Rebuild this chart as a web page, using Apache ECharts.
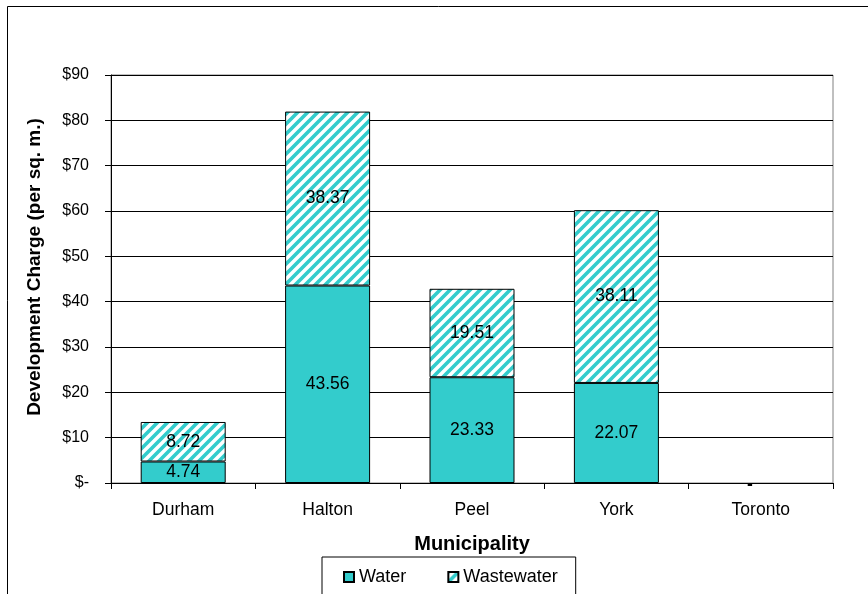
<!DOCTYPE html>
<html>
<head>
<meta charset="utf-8">
<script src="https://cdn.jsdelivr.net/npm/echarts@6/dist/echarts.min.js"></script>
<style>
html,body{margin:0;padding:0;background:#fff;}
#chart{width:868px;height:594px;}
</style>
</head>
<body>
<div id="chart"></div>
<script>
var categories = ['Durham', 'Halton', 'Peel', 'York', 'Toronto'];
var water = [4.74, 43.56, 23.33, 22.07, 0];
var wastewater = [8.72, 38.37, 19.51, 38.11, 0];
var yTicks = [0, 10, 20, 30, 40, 50, 60, 70, 80, 90];

var TEAL = '#33CCCC';
var FONT = 'Arial, "Liberation Sans", sans-serif';

function makeStripe() {
  var s = 10;
  var c = document.createElement('canvas');
  c.width = s; c.height = s;
  var ctx = c.getContext('2d');
  ctx.fillStyle = '#ffffff';
  ctx.fillRect(0, 0, s, s);
  ctx.strokeStyle = TEAL;
  ctx.lineWidth = 3.6;
  ctx.beginPath();
  ctx.moveTo(-3, s + 3); ctx.lineTo(s + 3, -3);
  ctx.moveTo(-3, 3); ctx.lineTo(3, -3);
  ctx.moveTo(s - 3, s + 3); ctx.lineTo(s + 3, s - 3);
  ctx.stroke();
  return c;
}
var stripe = makeStripe();

function toData(arr) {
  return arr.map(function (v) {
    return v === 0 ? {value: v, itemStyle: {borderWidth: 0}} : v;
  });
}

var chart = echarts.init(document.getElementById('chart'), null, {renderer: 'canvas'});
chart.setOption({
  animation: false,
  backgroundColor: '#fff',
  textStyle: {fontFamily: FONT},
  graphic: [{
    type: 'rect',
    shape: {x: 7.5, y: 6.5, width: 900, height: 700},
    style: {fill: 'none', stroke: '#000', lineWidth: 1},
    silent: true, z: -10
  }],
  grid: {
    left: 111, right: 35, top: 75, bottom: 111,
    show: true, borderColor: '#808080', borderWidth: 1
  },
  legend: {
    left: 322, top: 557,
    itemWidth: 10, itemHeight: 10, itemGap: 41,
    padding: [11, 18, 30, 21],
    borderColor: '#000', borderWidth: 1,
    textStyle: {fontSize: 18, color: '#000', fontFamily: FONT},
    data: [
      {name: 'Water', icon: 'rect'},
      {name: 'Wastewater', icon: 'rect'}
    ]
  },
  xAxis: {
    type: 'category',
    data: categories,
    name: 'Municipality',
    nameLocation: 'middle',
    nameGap: 51,
    nameTextStyle: {fontSize: 20, fontWeight: 'bold', color: '#000', fontFamily: FONT},
    axisLine: {lineStyle: {color: '#000', width: 1}},
    axisTick: {show: true, alignWithLabel: false, length: 6, lineStyle: {color: '#000'}},
    axisLabel: {fontSize: 17.5, color: '#000', margin: 18, fontFamily: FONT}
  },
  yAxis: {
    type: 'value',
    min: 0, max: 90, interval: 10,
    name: 'Development Charge (per sq. m.)',
    nameLocation: 'middle',
    nameGap: 67,
    nameRotate: 90,
    nameTextStyle: {fontSize: 19, fontWeight: 'bold', color: '#000', fontFamily: FONT, padding: [0, 0, 0, 24]},
    axisLine: {show: true, lineStyle: {color: '#000', width: 1}},
    axisTick: {show: true, inside: false, length: 6, lineStyle: {color: '#000'}},
    splitLine: {show: true, lineStyle: {color: '#000', width: 1}},
    axisLabel: {
      fontSize: 16, color: '#000', margin: 22, fontFamily: FONT,
      formatter: function (v) { return v === 0 ? '$-' : '$' + v; }
    }
  },
  series: [
    {
      name: 'Water',
      type: 'bar',
      stack: 'total',
      barWidth: 85,
      data: toData(water),
      itemStyle: {color: TEAL, borderColor: '#000', borderWidth: 1},
      label: {
        show: true, position: 'inside', fontSize: 17.5, color: '#000', fontFamily: FONT,
        formatter: function (p) { return p.value === 0 ? '{d|-}' : p.value.toFixed(2); },
        rich: {d: {fontSize: 17.5, fontWeight: 'bold', color: '#000', fontFamily: FONT}}
      },
      labelLayout: function (p) {
        return p.dataIndex === 4 ? {dx: -11, dy: 2} : {};
      }
    },
    {
      name: 'Wastewater',
      type: 'bar',
      stack: 'total',
      barWidth: 85,
      data: toData(wastewater),
      itemStyle: {color: {image: stripe, repeat: 'repeat'}, borderColor: '#000', borderWidth: 1},
      label: {
        show: true, position: 'inside', fontSize: 17.5, color: '#000', fontFamily: FONT,
        formatter: function (p) { return p.value === 0 ? '' : p.value.toFixed(2); }
      }
    }
  ]
});
</script>
</body>
</html>
